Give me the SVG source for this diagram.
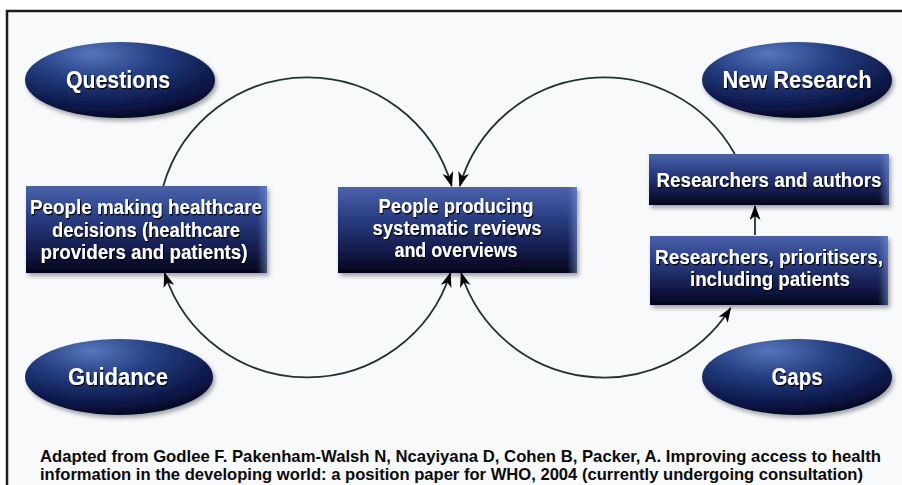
<svg xmlns="http://www.w3.org/2000/svg" width="902" height="485" viewBox="0 0 902 485">
<defs>
<linearGradient id="boxg" x1="0" y1="0" x2="0" y2="1">
<stop offset="0" stop-color="#4a62ab"/>
<stop offset="0.35" stop-color="#2b3f85"/>
<stop offset="0.75" stop-color="#121a48"/>
<stop offset="1" stop-color="#02041a"/>
</linearGradient>
<linearGradient id="edgeg" x1="0" y1="0" x2="1" y2="0">
<stop offset="0" stop-color="#6a86c8" stop-opacity="0"/>
<stop offset="1" stop-color="#7b95d2" stop-opacity="0.55"/>
</linearGradient>
<radialGradient id="ellg" cx="0.4" cy="0.2" r="0.85" fx="0.35" fy="0.15">
<stop offset="0" stop-color="#5576bd"/>
<stop offset="0.4" stop-color="#243d80"/>
<stop offset="0.8" stop-color="#0b1545"/>
<stop offset="1" stop-color="#020618"/>
</radialGradient>
<filter id="sh" x="-10%" y="-10%" width="125%" height="130%">
<feDropShadow dx="2" dy="3" stdDeviation="2" flood-color="#000" flood-opacity="0.35"/>
</filter>
<filter id="tsh" x="-5%" y="-20%" width="110%" height="150%">
<feDropShadow dx="1" dy="1.4" stdDeviation="0.7" flood-color="#000" flood-opacity="0.95"/>
</filter>
<marker id="ah" viewBox="0 0 15 11" refX="14" refY="5.5" markerWidth="15" markerHeight="11" markerUnits="userSpaceOnUse" orient="auto-start-reverse">
<path d="M0,0 L15,5.5 L0,11 L4,5.5 z" fill="#050505"/>
</marker>
</defs>
<style>
.box{fill:url(#boxg);filter:url(#sh)}
.edge{fill:url(#edgeg)}
.ell{fill:url(#ellg);filter:url(#sh)}
.t{font-family:"Liberation Sans","DejaVu Sans",sans-serif;font-weight:bold;fill:#ffffff;text-anchor:middle;filter:url(#tsh)}
.lbl{font-size:23px}
.bt{font-size:19.5px}
.cap{font-family:"Liberation Sans","DejaVu Sans",sans-serif;font-weight:bold;font-size:16.5px;fill:#0a0a0a}
.conn{fill:none;stroke:#203232;stroke-width:1.8}
</style>
<rect x="0" y="0" width="902" height="485" fill="#ffffff"/>
<rect x="8" y="12" width="894" height="473" fill="#f8f9fb"/>
<path d="M7,485 L7,11 L902,11" fill="none" stroke="#1e1e1e" stroke-width="2.5"/>

<g id="connectors">
<path class="conn" d="M163.3,186 A150,150 0 0 1 451.7,186" marker-end="url(#ah)"/>
<path class="conn" d="M164.6,273 A150,150 0 0 0 450.4,273" marker-start="url(#ah)" marker-end="url(#ah)"/>
<path class="conn" d="M734.8,154 A150,150 0 0 0 459.8,186" marker-end="url(#ah)"/>
<path class="conn" d="M461.1,273 A150,150 0 0 0 730.6,308" marker-start="url(#ah)" marker-end="url(#ah)"/>
<path class="conn" d="M755,235 L755,206" marker-end="url(#ah)"/>
</g>

<g id="questions">
<ellipse class="ell" cx="120" cy="80" rx="95" ry="38"/>
<text class="t lbl" x="118" y="88" textLength="104" lengthAdjust="spacingAndGlyphs">Questions</text>
</g>
<g id="new-research">
<ellipse class="ell" cx="797" cy="80" rx="95" ry="38"/>
<text class="t lbl" x="797" y="88" textLength="149" lengthAdjust="spacingAndGlyphs">New Research</text>
</g>
<g id="guidance">
<ellipse class="ell" cx="119" cy="377" rx="94" ry="38"/>
<text class="t lbl" x="118" y="385" textLength="100" lengthAdjust="spacingAndGlyphs">Guidance</text>
</g>
<g id="gaps">
<ellipse class="ell" cx="797" cy="377" rx="95" ry="38"/>
<text class="t lbl" x="797" y="385" textLength="51" lengthAdjust="spacingAndGlyphs">Gaps</text>
</g>

<g id="decision-makers">
<rect class="box" x="26" y="186" width="241" height="87"/>
<rect class="edge" x="257" y="186" width="10" height="87"/>
<text class="t bt" x="146" y="214" textLength="232" lengthAdjust="spacingAndGlyphs">People making healthcare</text>
<text class="t bt" x="146" y="237" textLength="188" lengthAdjust="spacingAndGlyphs">decisions (healthcare</text>
<text class="t bt" x="144" y="259" textLength="207" lengthAdjust="spacingAndGlyphs">providers and patients)</text>
</g>
<g id="reviewers">
<rect class="box" x="338" y="187" width="239" height="86"/>
<rect class="edge" x="567" y="187" width="10" height="86"/>
<text class="t bt" x="456" y="213" textLength="155" lengthAdjust="spacingAndGlyphs">People producing</text>
<text class="t bt" x="457" y="235" textLength="169" lengthAdjust="spacingAndGlyphs">systematic reviews</text>
<text class="t bt" x="456" y="257" textLength="123" lengthAdjust="spacingAndGlyphs">and overviews</text>
</g>
<g id="researchers-authors">
<rect class="box" x="649" y="154" width="240" height="51"/>
<rect class="edge" x="879" y="154" width="10" height="51"/>
<text class="t bt" x="769" y="187" textLength="225" lengthAdjust="spacingAndGlyphs">Researchers and authors</text>
</g>
<g id="prioritisers">
<rect class="box" x="650" y="236" width="238" height="69"/>
<rect class="edge" x="878" y="236" width="10" height="69"/>
<text class="t bt" x="769" y="264" textLength="228" lengthAdjust="spacingAndGlyphs">Researchers, prioritisers,</text>
<text class="t bt" x="770" y="286" textLength="160" lengthAdjust="spacingAndGlyphs">including patients</text>
</g>

<g id="caption">
<text class="cap" x="40" y="462" textLength="841" lengthAdjust="spacingAndGlyphs">Adapted from Godlee F. Pakenham-Walsh N, Ncayiyana D, Cohen B, Packer, A. Improving access to health</text>
<text class="cap" x="40" y="480" textLength="823" lengthAdjust="spacingAndGlyphs">information in the developing world: a position paper for WHO, 2004 (currently undergoing consultation)</text>
</g>
</svg>
